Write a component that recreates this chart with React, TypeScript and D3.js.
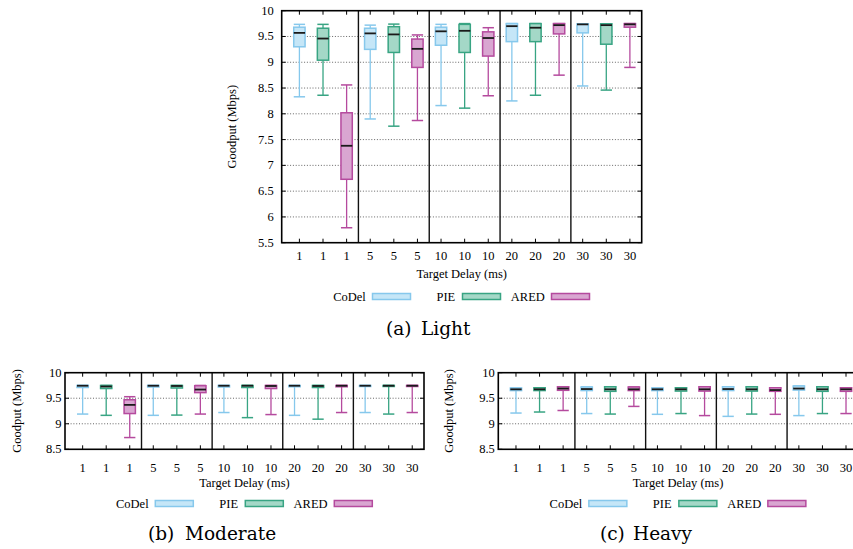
import React from "react";
import * as d3 from "d3";

// ---------- data ----------
const delays = ["1", "1", "1", "5", "5", "5", "10", "10", "10", "20", "20", "20", "30", "30", "30"];
const schemes = ["CoDel", "PIE", "ARED"];

// Light
const lightLo = [8.33, 8.36, 5.79, 7.9, 7.76, 7.87, 8.16, 8.11, 8.35, 8.25, 8.36, 8.75, 8.54, 8.46, 8.9];
const lightQ1 = [9.3, 9.04, 6.73, 9.25, 9.19, 8.9, 9.33, 9.19, 9.12, 9.4, 9.4, 9.55, 9.57, 9.35, 9.68];
const lightMed = [9.57, 9.46, 7.38, 9.56, 9.54, 9.26, 9.6, 9.61, 9.47, 9.7, 9.67, 9.72, 9.735, 9.72, 9.735];
const lightQ3 = [9.68, 9.66, 8.02, 9.66, 9.69, 9.45, 9.68, 9.735, 9.59, 9.75, 9.75, 9.75, 9.745, 9.745, 9.75];
const lightHi = [9.735, 9.735, 8.56, 9.72, 9.74, 9.53, 9.735, 9.75, 9.67, 9.75, 9.75, 9.75, 9.745, 9.745, 9.75];

// Moderate
const modLo = [9.19, 9.165, 8.73, 9.165, 9.17, 9.19, 9.22, 9.12, 9.18, 9.165, 9.09, 9.22, 9.22, 9.19, 9.22];
const modQ1 = [9.71, 9.69, 9.2, 9.72, 9.7, 9.61, 9.72, 9.71, 9.69, 9.725, 9.71, 9.725, 9.73, 9.73, 9.73];
const modMed = [9.745, 9.73, 9.37, 9.745, 9.74, 9.67, 9.745, 9.745, 9.74, 9.745, 9.74, 9.745, 9.745, 9.745, 9.745];
const modQ3 = [9.75, 9.75, 9.47, 9.75, 9.75, 9.745, 9.75, 9.75, 9.75, 9.75, 9.75, 9.75, 9.75, 9.75, 9.75];
const modHi = [9.75, 9.75, 9.53, 9.75, 9.75, 9.75, 9.75, 9.75, 9.75, 9.75, 9.75, 9.75, 9.75, 9.75, 9.75];

// Heavy
const heavyLo = [9.21, 9.23, 9.26, 9.2, 9.19, 9.34, 9.185, 9.2, 9.16, 9.145, 9.19, 9.185, 9.16, 9.2, 9.2];
const heavyQ1 = [9.65, 9.65, 9.655, 9.65, 9.635, 9.65, 9.65, 9.64, 9.64, 9.65, 9.64, 9.635, 9.66, 9.635, 9.635];
const heavyMed = [9.675, 9.675, 9.69, 9.68, 9.675, 9.675, 9.675, 9.675, 9.675, 9.68, 9.675, 9.66, 9.69, 9.675, 9.675];
const heavyQ3 = [9.7, 9.705, 9.725, 9.72, 9.725, 9.72, 9.7, 9.705, 9.725, 9.725, 9.725, 9.705, 9.74, 9.725, 9.705];
const heavyHi = [9.7, 9.705, 9.725, 9.72, 9.725, 9.72, 9.7, 9.705, 9.725, 9.725, 9.725, 9.705, 9.74, 9.725, 9.705];

const lightTicks = [5.5, 6, 6.5, 7, 7.5, 8, 8.5, 9, 9.5, 10];
const smallTicks = [8.5, 9, 9.5, 10];

const strokeColors = ["#86c8ec", "#38a483", "#b54a9e"];
const fillColors = ["#c5e6f7", "#a4d8c7", "#d9a6d1"];

const FONT = "Liberation Serif";
const CAPFONT = "DejaVu Serif";

type PanelProps = {
  left: number; right: number; top: number; bottom: number;
  yDomain: [number, number]; yTicks: number[];
  lo: number[]; q1: number[]; med: number[]; q3: number[]; hi: number[];
  yTickGap: number; xTickBase: number; xLabelBase: number; yLabelX: number;
  legendBase: number;
};

function Panel(p: PanelProps) {
  const x = d3.scaleLinear().domain([0.25, 15.5]).range([p.left, p.right]);
  const y = d3.scaleLinear().domain(p.yDomain).range([p.bottom, p.top]);
  const bw = (x(1) - x(0)) * 0.48;
  const cx = (p.left + p.right) / 2;
  const lx = cx - 128.5;
  const legendItems = [
    { t: 0, s: 39.3 },
    { t: 103.3, s: 129.3 },
    { t: 177.6, s: 218.3 },
  ];
  return (
    <g>
      {p.yTicks.slice(1, -1).map((v) => (
        <line key={"g" + v} x1={p.left} x2={p.right} y1={y(v)} y2={y(v)}
          stroke="#555" strokeWidth={0.9} strokeDasharray="1,1.8" />
      ))}
      {p.yTicks.map((v) => (
        <g key={"yt" + v}>
          <line x1={p.left} x2={p.left + 4} y1={y(v)} y2={y(v)} stroke="#000" strokeWidth={1} />
          <line x1={p.right} x2={p.right - 4} y1={y(v)} y2={y(v)} stroke="#000" strokeWidth={1} />
          <text x={p.left - p.yTickGap} y={y(v) + 4} textAnchor="end" fontSize={12.5} fontFamily={FONT}>{v}</text>
        </g>
      ))}
      {delays.map((d, i) => (
        <g key={"xt" + i}>
          <line x1={x(i + 1)} x2={x(i + 1)} y1={p.bottom} y2={p.bottom - 4} stroke="#000" strokeWidth={1} />
          <line x1={x(i + 1)} x2={x(i + 1)} y1={p.top} y2={p.top + 4} stroke="#000" strokeWidth={1} />
          <text x={x(i + 1)} y={p.xTickBase} textAnchor="middle" fontSize={12.5} fontFamily={FONT}>{d}</text>
        </g>
      ))}
      {[3.5, 6.5, 9.5, 12.5].map((v) => (
        <line key={"s" + v} x1={x(v)} x2={x(v)} y1={p.top} y2={p.bottom} stroke="#111" strokeWidth={1.4} />
      ))}
      {delays.map((_, i) => {
        const k = i % 3;
        const xc = x(i + 1);
        const sc = strokeColors[k];
        return (
          <g key={"b" + i}>
            <line x1={xc} x2={xc} y1={y(p.lo[i])} y2={y(p.q1[i])} stroke={sc} strokeWidth={1.3} />
            <line x1={xc} x2={xc} y1={y(p.hi[i])} y2={y(p.q3[i])} stroke={sc} strokeWidth={1.3} />
            <line x1={xc - bw / 2} x2={xc + bw / 2} y1={y(p.lo[i])} y2={y(p.lo[i])} stroke={sc} strokeWidth={1.5} />
            <line x1={xc - bw / 2} x2={xc + bw / 2} y1={y(p.hi[i])} y2={y(p.hi[i])} stroke={sc} strokeWidth={1.5} />
            <rect x={xc - bw / 2} y={y(p.q3[i])} width={bw} height={Math.max(0.5, y(p.q1[i]) - y(p.q3[i]))}
              fill={fillColors[k]} stroke={sc} strokeWidth={1.5} />
            <line x1={xc - bw / 2} x2={xc + bw / 2} y1={y(p.med[i])} y2={y(p.med[i])} stroke="#1a1a1a" strokeWidth={1.8} />
          </g>
        );
      })}
      <rect x={p.left} y={p.top} width={p.right - p.left} height={p.bottom - p.top}
        fill="none" stroke="#000" strokeWidth={1.6} />
      <text x={cx} y={p.xLabelBase} textAnchor="middle" fontSize={12.5} fontFamily={FONT}>Target Delay (ms)</text>
      <text transform={`translate(${p.yLabelX},${(p.top + p.bottom) / 2}) rotate(-90)`}
        textAnchor="middle" dominantBaseline="central" fontSize={12.5} fontFamily={FONT}>Goodput (Mbps)</text>
      {schemes.map((s, k) => (
        <g key={s}>
          <text x={lx + legendItems[k].t} y={p.legendBase} fontSize={12.5} fontFamily={FONT}>{s}</text>
          <rect x={lx + legendItems[k].s} y={p.legendBase - 7.5} width={38} height={6}
            fill={fillColors[k]} stroke={strokeColors[k]} strokeWidth={1.5} />
        </g>
      ))}
    </g>
  );
}

export default function App() {
  return (
    <svg width={853} height={549} style={{ position: "absolute", left: 0, top: 0, background: "#fff" }}>
      <rect x={0} y={0} width={853} height={549} fill="#fff" />
      <Panel left={281.7} right={641.7} top={10.7} bottom={242.7} yDomain={[5.5, 10]} yTicks={lightTicks}
        lo={lightLo} q1={lightQ1} med={lightMed} q3={lightQ3} hi={lightHi}
        yTickGap={8} xTickBase={260} xLabelBase={278} yLabelX={232} legendBase={301} />
      <Panel left={65} right={424} top={372.7} bottom={449.3} yDomain={[8.5, 10]} yTicks={smallTicks}
        lo={modLo} q1={modQ1} med={modMed} q3={modQ3} hi={modHi}
        yTickGap={3.5} xTickBase={472} xLabelBase={487} yLabelX={16.7} legendBase={508} />
      <Panel left={498.3} right={857.8} top={372.7} bottom={449.3} yDomain={[8.5, 10]} yTicks={smallTicks}
        lo={heavyLo} q1={heavyQ1} med={heavyMed} q3={heavyQ3} hi={heavyHi}
        yTickGap={3.5} xTickBase={472} xLabelBase={487} yLabelX={449} legendBase={508} />
      <g fontFamily={CAPFONT} fontSize={18.5}>
        <text x={386} y={335}>(a)</text>
        <text x={421} y={335}>Light</text>
        <text x={148} y={540}>(b)</text>
        <text x={185} y={540}>Moderate</text>
        <text x={600} y={540}>(c)</text>
        <text x={633} y={540}>Heavy</text>
      </g>
    </svg>
  );
}
